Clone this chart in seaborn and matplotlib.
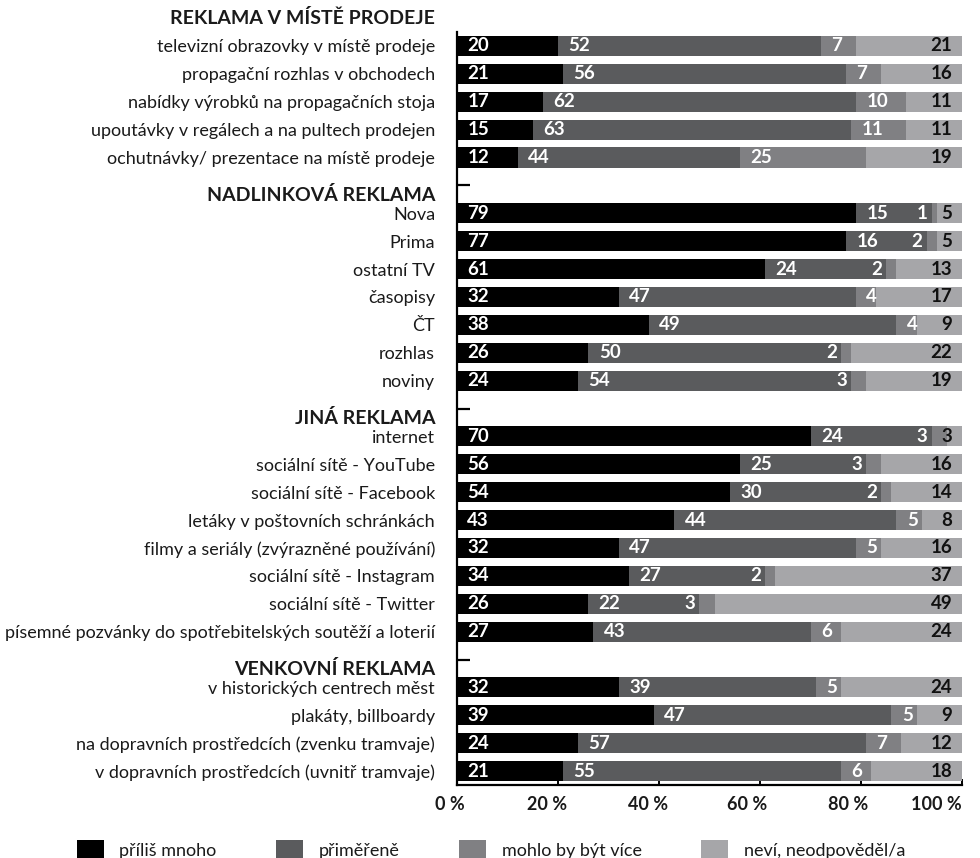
import matplotlib
matplotlib.use("Agg")
import matplotlib.pyplot as plt
import matplotlib.transforms as mtransforms
from matplotlib.patches import Patch
import pandas as pd
import seaborn as sns

# ---- data -------------------------------------------------------------
sections = ["REKLAMA V MÍSTĚ PRODEJE", "NADLINKOVÁ REKLAMA",
            "JINÁ REKLAMA", "VENKOVNÍ REKLAMA"]

items = [
    ["televizní obrazovky v místě prodeje",
     "propagační rozhlas v obchodech",
     "nabídky výrobků na propagačních stoja",
     "upoutávky v regálech a na pultech prodejen",
     "ochutnávky/ prezentace na místě prodeje"],
    ["Nova", "Prima", "ostatní TV", "časopisy", "ČT", "rozhlas", "noviny"],
    ["internet", "sociální sítě - YouTube", "sociální sítě - Facebook",
     "letáky v poštovních schránkách",
     "filmy a seriály (zvýrazněné používání)",
     "sociální sítě - Instagram", "sociální sítě - Twitter",
     "písemné pozvánky do spotřebitelských soutěží a loterií"],
    ["v historických centrech měst", "plakáty, billboardy",
     "na dopravních prostředcích (zvenku tramvaje)",
     "v dopravních prostředcích (uvnitř tramvaje)"],
]

too_much = [20, 21, 17, 15, 12,
            79, 77, 61, 32, 38, 26, 24,
            70, 56, 54, 43, 32, 34, 26, 27,
            32, 39, 24, 21]
adequate = [52, 56, 62, 63, 44,
            15, 16, 24, 47, 49, 50, 54,
            24, 25, 30, 44, 47, 27, 22, 43,
            39, 47, 57, 55]
could_be_more = [7, 7, 10, 11, 25,
                 1, 2, 2, 4, 4, 2, 3,
                 3, 3, 2, 5, 5, 2, 3, 6,
                 5, 5, 7, 6]
dont_know = [21, 16, 11, 11, 19,
             5, 5, 13, 17, 9, 22, 19,
             3, 16, 14, 8, 16, 37, 49, 24,
             24, 9, 12, 18]

series_names = ["příliš mnoho", "přiměřeně", "mohlo by být více",
                "neví, neodpověděl/a"]
colors = ["#000000", "#5a5b5d", "#808083", "#a6a6a9"]

x_ticks = [0, 20, 40, 60, 80, 100]
x_tick_labels = ["0 %", "20 %", "40 %", "60 %", "80 %", "100 %"]

# ---- layout of rows: a header slot before each section ---------------
slots, headers, item_labels = [], set(), []
for sec, its in zip(sections, items):
    slots.append(sec)
    headers.add(sec)
    slots.extend(its)
    item_labels.extend(its)

series = [too_much, adequate, could_be_more, dont_know]
df = pd.DataFrame({"label": item_labels})
running = [0] * len(item_labels)
for k, vals in enumerate(series):
    running = [r + v for r, v in zip(running, vals)]
    df[f"cum{k}"] = running

# ---- style ------------------------------------------------------------
sns.set_theme(style="white")
plt.rcParams["font.family"] = ["Lato", "DejaVu Sans"]
plt.rcParams["text.color"] = "#1a1a1a"

FS = 13.0
FS_HEAD = 14
FS_VAL = 13.5

fig = plt.figure(figsize=(9.8, 8.58), dpi=100)
ax = fig.add_axes([457 / 980, 1 - 785 / 858, 505 / 980, (785 - 32) / 858])

# stacked bars drawn as overlapping cumulative totals
for k in range(3, -1, -1):
    sns.barplot(data=df, x=f"cum{k}", y="label", order=slots, orient="h",
                color=colors[k], saturation=1, width=0.72, errorbar=None,
                linewidth=0, ax=ax)

ax.set_xlim(0, 100)
ax.set_ylim(len(slots) - 0.5, 0.5)
ax.set_xlabel("")
ax.set_ylabel("")

# value labels
pos = {lab: i for i, lab in enumerate(slots)}
for j, lab in enumerate(item_labels):
    y = pos[lab]
    start = 0
    for k, vals in enumerate(series):
        v = vals[j]
        if k == 3:
            ax.annotate(f"{v}", (100, y), xytext=(-7, 0),
                        textcoords="offset points", ha="right",
                        va="center", fontsize=FS_VAL, fontweight="bold",
                        color="#111111")
        elif k == 2 and v <= 3:
            ax.annotate(f"{v}", (start, y), xytext=(-3, 0),
                        textcoords="offset points", ha="right",
                        va="center", fontsize=FS_VAL, fontweight="bold",
                        color="white")
        else:
            ax.annotate(f"{v}", (start, y), xytext=(7.5, 0),
                        textcoords="offset points", ha="left",
                        va="center", fontsize=FS_VAL, fontweight="bold",
                        color="white")
        start += v

# y axis: row labels, ticks only for section headers
ax.set_yticks(range(1, len(slots)))
ax.set_yticklabels(slots[1:])
ax.tick_params(axis="y", left=True, direction="in", length=9, width=1.6,
               pad=15.8, labelsize=FS, colors="#000000",
               labelcolor="#1a1a1a")
head_shift = mtransforms.ScaledTranslation(0, -8 / 100, fig.dpi_scale_trans)
for tick, lab in zip(ax.yaxis.get_major_ticks(), slots[1:]):
    if lab in headers:
        tick.label1.set_fontweight("bold")
        tick.label1.set_fontsize(FS_HEAD)
        tick.label1.set_transform(tick.label1.get_transform() + head_shift)
    else:
        tick.tick1line.set_visible(False)

ax.annotate(slots[0], xy=(0, 0), xycoords=("axes fraction", "data"),
            xytext=(-15.8, 0), textcoords="offset points", ha="right",
            va="center", fontsize=FS_HEAD, fontweight="bold",
            annotation_clip=False)

# x axis
ax.set_xticks(x_ticks)
ax.set_xticklabels(x_tick_labels)
ax.tick_params(axis="x", bottom=True, direction="in", length=4, width=1.4,
               pad=8, labelsize=FS, colors="#000000", labelcolor="#1a1a1a")
label_nudge = [-7, -10.5, -11, -12.5, -13, -26]
for lbl, dx in zip(ax.get_xticklabels(), label_nudge):
    lbl.set_fontweight("bold")
    lbl.set_transform(lbl.get_transform() + mtransforms.ScaledTranslation(
        dx / 100, 0, fig.dpi_scale_trans))

for side in ["top", "right"]:
    ax.spines[side].set_visible(False)
for side in ["left", "bottom"]:
    ax.spines[side].set_color("#000000")
    ax.spines[side].set_linewidth(1.6)
ax.grid(False)

# legend
handles = [Patch(facecolor=c, edgecolor="none") for c in colors]
fig.legend(handles, series_names, loc="center left",
           bbox_to_anchor=(77 / 980, 1 - 850 / 858), ncol=4, frameon=False,
           fontsize=13, handlelength=1.5, handleheight=1.3,
           handletextpad=0.85, columnspacing=3.3, borderpad=0,
           borderaxespad=0)

fig.savefig("out.png", dpi=100)
